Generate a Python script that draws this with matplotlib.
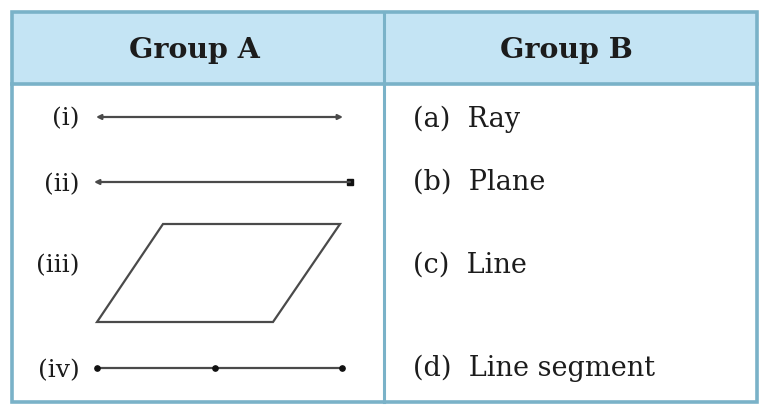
import matplotlib
matplotlib.use("Agg")
import matplotlib.pyplot as plt
from matplotlib.patches import Rectangle, Polygon

# ---- data ----
headers = ["Group A", "Group B"]
group_a_labels = ["(i)", "(ii)", "(iii)", "(iv)"]
group_b_labels = ["(a)  Ray", "(b)  Plane", "(c)  Line", "(d)  Line segment"]
a_label_y = [119, 185, 266, 371]
b_label_y = [119, 182, 265, 368]

# figure i: line (arrows both ends)
line_i_x = [96, 343]
line_i_y = 118
# figure ii: ray (arrow left, point right)
ray_ii_x = [94, 350]
ray_ii_y = 183
# figure iii: plane (parallelogram)
plane_x = [97, 163, 340, 273]
plane_y = [323, 225, 225, 323]
# figure iv: line segment with three points
seg_iv_x = [97, 215, 342]
seg_iv_y = 369

border_col = "#7ab2c8"
header_col = "#c4e4f4"
ink = "#1c1c1c"

fig = plt.figure(figsize=(7.61, 4.06), dpi=100)
ax = fig.add_axes([0, 0, 1, 1])
ax.set_xlim(0, 761)
ax.set_ylim(406, 0)
ax.axis("off")
fig.patch.set_facecolor("white")

left, right, top, hdr_bot, bottom, mid = 12, 757, 13, 85, 403, 384

ax.add_patch(Rectangle((left, top), right - left, hdr_bot - top,
                       facecolor=header_col, edgecolor="none", zorder=0))
ax.add_patch(Rectangle((left, top), right - left, bottom - top,
                       facecolor="none", edgecolor=border_col, lw=2.6, zorder=3))
ax.plot([left, right], [hdr_bot, hdr_bot], color=border_col, lw=2.6, zorder=3)
ax.plot([mid, mid], [top, bottom], color=border_col, lw=2.2, zorder=3)

serif = ["DejaVu Serif"]
ax.text(194, 50, headers[0], ha="center", va="center",
        fontsize=20.5, fontweight="bold", family=serif, color=ink)
ax.text(566, 50, headers[1], ha="center", va="center",
        fontsize=20.5, fontweight="bold", family=serif, color=ink)

for lab, y in zip(group_a_labels, a_label_y):
    ax.text(80, y, lab, ha="right", va="center", fontsize=18,
            family=serif, color=ink)
for lab, y in zip(group_b_labels, b_label_y):
    ax.text(413, y, lab, ha="left", va="center", fontsize=19.5,
            family=serif, color=ink)

lc = "#4a4a4a"
# (i) line: arrows both ends
ax.annotate("", xy=(line_i_x[0], line_i_y), xytext=(line_i_x[1], line_i_y),
            arrowprops=dict(arrowstyle="<|-|>", color=lc, lw=1.6,
                            mutation_scale=7, shrinkA=0, shrinkB=0))
# (ii) ray: arrow left, dot right
ax.annotate("", xy=(ray_ii_x[0], ray_ii_y), xytext=(ray_ii_x[1], ray_ii_y),
            arrowprops=dict(arrowstyle="-|>", color=lc, lw=1.6,
                            mutation_scale=7, shrinkA=0, shrinkB=0))
ax.plot([ray_ii_x[1]], [ray_ii_y], "s", color="#111111", ms=3.8)
# (iii) plane
ax.add_patch(Polygon(list(zip(plane_x, plane_y)), closed=True,
                     facecolor="none", edgecolor=lc, lw=1.6))
# (iv) segment
ax.plot([seg_iv_x[0], seg_iv_x[-1]], [seg_iv_y, seg_iv_y], color=lc, lw=1.6)
ax.plot(seg_iv_x, [seg_iv_y] * len(seg_iv_x), "o", color="#111111", ms=3.8)

fig.savefig("out.png", dpi=100)
